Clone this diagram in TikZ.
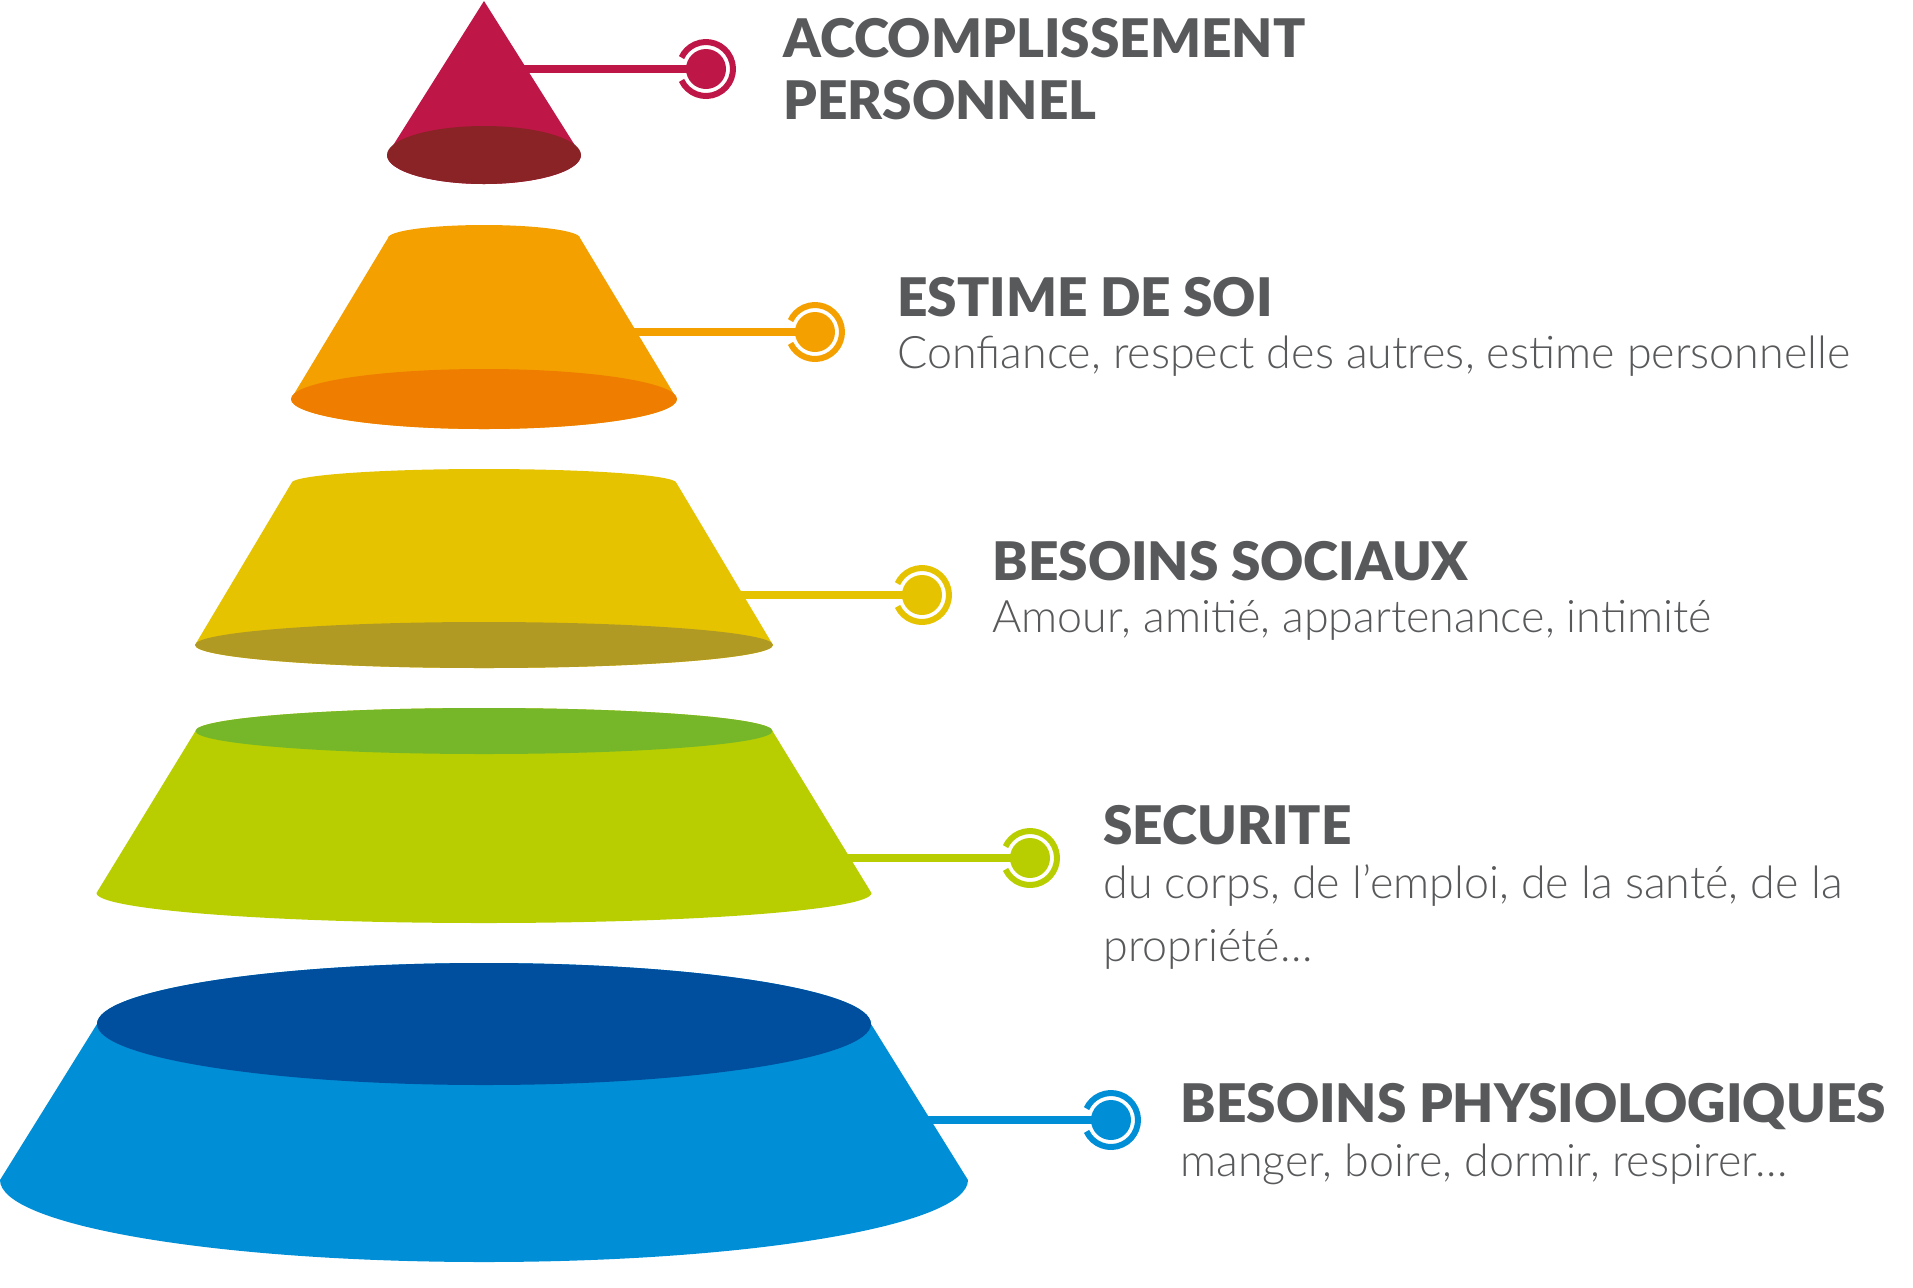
\documentclass[tikz,border=0pt]{standalone}
\usepackage{fontspec}
\setmainfont{Lato}
\newfontfamily\titlefont{Lato Black}
\newfontfamily\bodyfont{Lato Light}
\definecolor{cRed}{HTML}{BE1646}
\definecolor{cRedDark}{HTML}{8A2325}
\definecolor{cOrange}{HTML}{F4A000}
\definecolor{cOrangeDark}{HTML}{EF7D00}
\definecolor{cYellow}{HTML}{E6C300}
\definecolor{cYellowDark}{HTML}{B19A24}
\definecolor{cGreen}{HTML}{B8CE00}
\definecolor{cGreenDark}{HTML}{76B72A}
\definecolor{cBlue}{HTML}{008FD6}
\definecolor{cBlueDark}{HTML}{004F9E}
\definecolor{txtgray}{HTML}{58595B}
\begin{document}
\begin{tikzpicture}[x=0.5pt,y=0.5pt,
  title/.style={anchor=base west, inner sep=0pt, font=\titlefont\fontsize{26.6}{28}\selectfont, text=txtgray},
  body/.style={anchor=base west, inner sep=0pt, font=\bodyfont\fontsize{22.4}{24}\selectfont, text=txtgray},
  dot/.style={circle, fill=#1, minimum size=20pt, inner sep=0pt},
  link/.style={draw=#1, line width=4.25pt},
  ring/.style={draw=#1, line width=3pt}]
\useasboundingbox (0,0) rectangle (1913,-1287);

% connectors (drawn first, shapes cover their start)
\coordinate (s1) at (515,-69);
\node[dot=cRed] (d1) at (706,-69) {};
\draw[link=cRed] (s1) -- (d1.center);
\draw[ring=cRed] ([shift={(-155:27)}]d1.center) arc[start angle=-155,end angle=155,radius=27];

\coordinate (s2) at (630,-332);
\node[dot=cOrange] (d2) at (815,-332) {};
\draw[link=cOrange] (s2) -- (d2.center);
\draw[ring=cOrange] ([shift={(-155:27)}]d2.center) arc[start angle=-155,end angle=155,radius=27];

\coordinate (s3) at (735,-595);
\node[dot=cYellow] (d3) at (922,-595) {};
\draw[link=cYellow] (s3) -- (d3.center);
\draw[ring=cYellow] ([shift={(-155:27)}]d3.center) arc[start angle=-155,end angle=155,radius=27];

\coordinate (s4) at (843,-858);
\node[dot=cGreen] (d4) at (1030,-858) {};
\draw[link=cGreen] (s4) -- (d4.center);
\draw[ring=cGreen] ([shift={(-155:27)}]d4.center) arc[start angle=-155,end angle=155,radius=27];

\coordinate (s5) at (925,-1120);
\node[dot=cBlue] (d5) at (1111,-1120) {};
\draw[link=cBlue] (s5) -- (d5.center);
\draw[ring=cBlue] ([shift={(-155:27)}]d5.center) arc[start angle=-155,end angle=155,radius=27];

% level 1: red cone
\fill[cRed] (387,-155) arc[start angle=180,end angle=360,x radius=97,y radius=29] -- (484,-1) -- cycle;
\fill[cRedDark] (484,-155) ellipse[x radius=97,y radius=29];

% level 2: orange
\fill[cOrange] (291,-399) arc[start angle=180,end angle=360,x radius=193,y radius=30]
  -- (580,-238) arc[start angle=0,end angle=180,x radius=96,y radius=13] -- cycle;
\fill[cOrangeDark] (484,-399) ellipse[x radius=193,y radius=30];

% level 3: yellow
\fill[cYellow] (195,-645) arc[start angle=180,end angle=360,x radius=289,y radius=23]
  -- (676.5,-483) arc[start angle=0,end angle=180,x radius=192.5,y radius=14] -- cycle;
\fill[cYellowDark] (484,-645) ellipse[x radius=289,y radius=23];

% level 4: green
\fill[cGreen] (96.5,-893) arc[start angle=180,end angle=360,x radius=387.5,y radius=30]
  -- (772.5,-731) arc[start angle=0,end angle=180,x radius=288.5,y radius=23] -- cycle;
\fill[cGreenDark] (484,-731) ellipse[x radius=288.5,y radius=23];

% level 5: blue
\fill[cBlue] (0,-1180) arc[start angle=180,end angle=360,x radius=484,y radius=82]
  -- (871,-1024) arc[start angle=0,end angle=180,x radius=387,y radius=61] -- cycle;
\fill[cBlueDark] (484,-1024) ellipse[x radius=387,y radius=61];

% texts
\node[title] (t1) at (783,-57) {ACCOMPLISSEMENT};
\node[title] (t1b) at (783,-119) {PERSONNEL};
\node[title] (t2) at (897,-316) {ESTIME DE SOI};
\node[body] (b2) at (897,-368) {Confiance, respect des autres, estime personnelle};
\node[title] (t3) at (992,-580) {BESOINS SOCIAUX};
\node[body] (b3) at (992,-632) {Amour, amitié, appartenance, intimité};
\node[title] (t4) at (1103,-844) {SECURITE};
\node[body] (b4) at (1103,-898) {du corps, de l’emploi, de la santé, de la};
\node[body] (b4b) at (1103,-961) {propriété…};
\node[title] (t5) at (1180,-1122) {BESOINS PHYSIOLOGIQUES};
\node[body] (b5) at (1180,-1176) {manger, boire, dormir, respirer…};
\end{tikzpicture}
\end{document}
